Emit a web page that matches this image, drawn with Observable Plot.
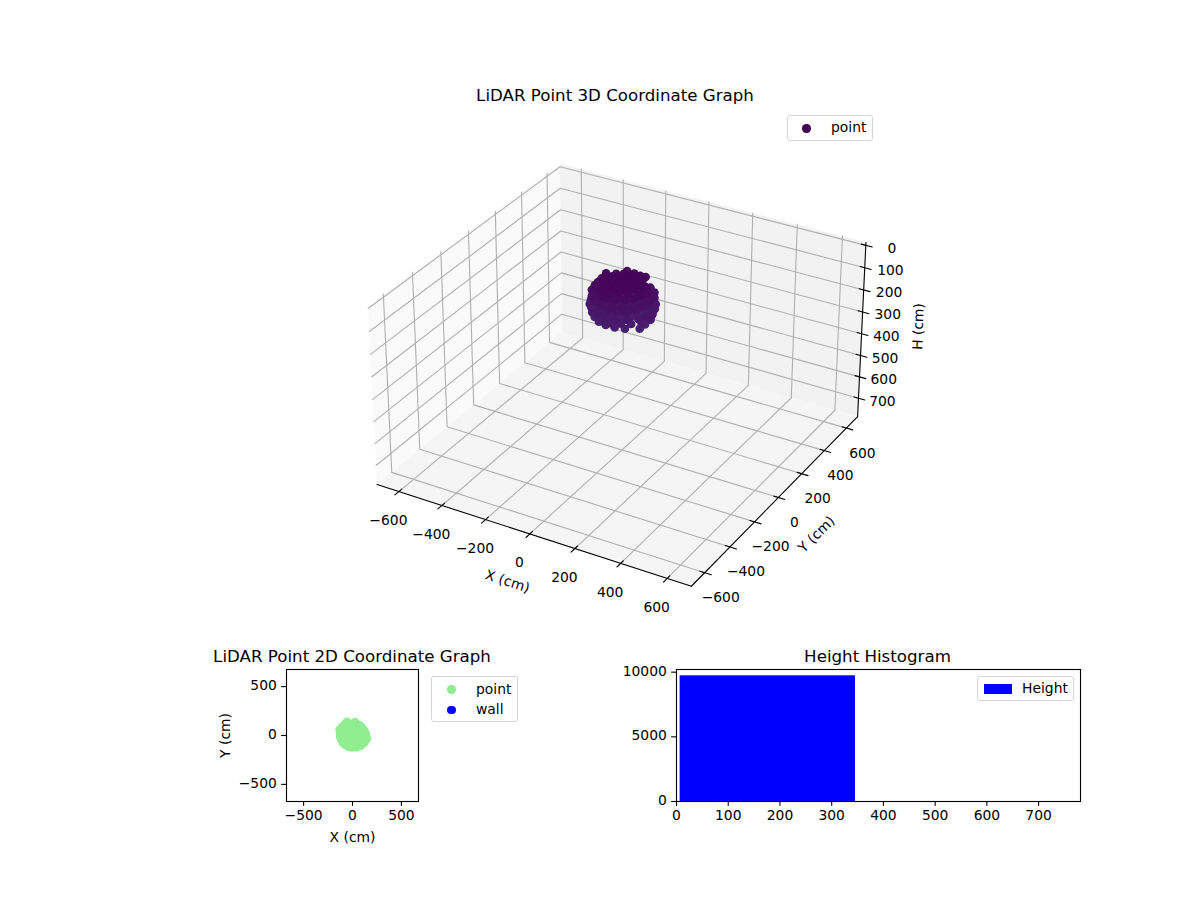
<!DOCTYPE html>
<html>
<head>
<meta charset="utf-8">
<script src="https://cdn.jsdelivr.net/npm/d3@7"></script>
<script src="https://cdn.jsdelivr.net/npm/@observablehq/plot@0.6"></script>
<style>
html,body{margin:0;padding:0;background:#fff;}
#page{position:relative;width:1200px;height:900px;overflow:hidden;font-family:"DejaVu Sans",sans-serif;color:#000;font-size:13.89px;}
#page svg{position:absolute;font-family:"DejaVu Sans",sans-serif;background:transparent;max-width:none;}
.title{position:absolute;font-size:16.67px;white-space:nowrap;transform:translateX(-50%);line-height:20px;}
.legend{position:absolute;box-sizing:border-box;background:rgba(255,255,255,.8);border:1.1px solid #d5d5d5;border-radius:3px;}
.legend span{position:absolute;white-space:nowrap;line-height:16px;}
.legend i{position:absolute;display:block;border-radius:50%;}
.legend b{position:absolute;display:block;}
</style>
</head>
<body>
<div id="page"></div>
<script>
// LiDAR points (cm); H grows downward on the axis
const pointX = [
  -78,-48,-18,12,42,72,-95,-65,-35,-5,25,55,85,-100,-72,-42,-12,18,48,78,105,-95,-68,-38,-8,22,52,82,-82,-52,-22,8,38,68,-45,-15,15,45,
  -94,-32,2,30,-62,-28,0,31,58,-88,-60,-30,-2,28,62,90,-92,-58,-31,1,32,60,88,-90,-62,-28,-1,30,58,92,-60,-30,3,28,60,-31,-2,32,
  -100,-105,-85,-50,-12,28,65,113,120,125,105,75,35,-10,-55,-85,
  -118,-125,-112,-90,-60,-25,15,55,90,118,130,128,115,85,50,10,-30,-70,-100,
  -134,-125,-127,-117,-103,-78,-45,-7,40,85,118,135,150,138,125,110,95,65,27,-15,-85,-110,
  -95,-70,-40,-5,35,70,95,110,-110,
  -125,-110,-80,-58,-10,27,70,105,120,125,115,95,60,20,-20,-60,-92,-115,-125,
  -100,-85,-60,-30,0,30,60,85,100,-105,105,
  -94,-32,2,30,-62,-28,0,31,58,-88,-60,-30,-2,28,62,90,-92,-58,-31,1,32,60,88,-90,-62,-28,-1,30,58,92,-60,-30,3,28,60,-31,-2,32
];
const pointY = [
  72,78,75,80,76,70,48,45,46,44,47,45,42,16,14,15,18,13,16,15,12,-14,-16,-13,-15,-17,-14,-15,-44,-46,-43,-45,-47,-44,-74,-76,-73,-75,
  39,88,92,90,62,60,58,62,60,32,30,28,31,30,33,28,2,0,-2,1,3,-1,2,-31,-29,-30,-32,-28,-31,-30,-60,-58,-62,-61,-59,-88,-90,-87,
  10,-30,-65,-92,-105,-105,-90,-59,-30,5,45,70,90,95,80,50,
  30,-5,-45,-75,-98,-113,-115,-105,-85,-55,-20,15,50,80,100,110,105,90,65,
  58,20,-15,-40,-72,-95,-115,-124,-122,-105,-78,-48,-30,15,45,60,88,112,125,120,110,85,
  -50,-75,-95,-105,-100,-78,-50,-15,-15,
  40,75,100,141,115,138,100,70,35,-5,-45,-75,-98,-112,-112,-98,-72,-35,5,
  -25,-55,-78,-95,-100,-98,-80,-55,-25,10,10,
  39,88,92,90,62,60,58,62,60,32,30,28,31,30,33,28,2,0,-2,1,3,-1,2,-31,-29,-30,-32,-28,-31,-30,-60,-58,-62,-61,-59,-88,-90,-87
];
const pointH = [
  106,108,110,105,107,109,108,104,111,107,105,110,108,106,109,107,111,105,108,110,106,107,109,111,105,108,106,110,107,109,105,111,108,106,110,107,109,108,
  148,150,146,152,149,147,151,148,150,146,149,152,147,150,148,151,146,149,152,148,150,147,149,151,146,148,152,150,147,149,151,148,146,150,149,152,147,148,
  166,170,172,170,168,168,170,172,165,160,162,158,156,160,162,160,
  140,142,146,148,144,146,148,144,145,146,140,138,140,142,138,140,142,140,140,
  112,114,116,118,116,118,120,116,118,116,118,116,116,112,110,112,110,108,112,114,110,108,
  94,96,98,96,94,98,96,94,96,
  76,78,74,58,76,60,78,76,74,76,78,80,76,78,80,78,76,74,76,
  50,52,50,54,52,48,50,52,50,54,50,
  30,34,30,32,34,26,28,24,30,36,30,26,22,24,28,36,34,24,22,20,22,26,32,36,28,24,22,24,28,34,34,28,26,28,32,36,32,36
];
const wallX = [], wallY = [];

// Height histogram
const binStart = [7], binEnd = [346], binCount = [9720];

// Axis ticks
const xTicks = [-600,-400,-200,0,200,400,600];
const yTicks = [-600,-400,-200,0,200,400,600];
const hTicks = [0,100,200,300,400,500,600,700];
const flatTicks = [-500,0,500];
const histXTicks = [0,100,200,300,400,500,600,700];
const histYTicks = [0,5000,10000];

// Limits of the 3D box
const xLim = [-703,703], yLim = [-703,703], hLim = [-14,788];
const view = {elev:30, azim:-60, dist:10, scale:2864, ox:621.5, oy:362.6};

const page = document.getElementById("page");
const FS = 13.89, LW = 1.11, GRID = "#b0b0b0";

// Same projection as a 3D axes viewed from elev/azim with equal data aspect
const aspect = [xLim[1]-xLim[0], yLim[1]-yLim[0], hLim[1]-hLim[0]];
const nrm = Math.hypot(...aspect);
const box = aspect.map(a => a*1.8294640721620434*25/24/nrm);
const el = view.elev*Math.PI/180, az = view.azim*Math.PI/180;
const n = [Math.cos(el)*Math.cos(az), Math.cos(el)*Math.sin(az), Math.sin(el)];
const u0 = [-n[1], n[0], 0], ul = Math.hypot(...u0), u = u0.map(v=>v/ul);
const v = [n[1]*u[2]-n[2]*u[1], n[2]*u[0]-n[0]*u[2], n[0]*u[1]-n[1]*u[0]];
function pr(x,y,h){
  const d = [((x-xLim[0])/aspect[0]-.5)*box[0], ((y-yLim[0])/aspect[1]-.5)*box[1], ((hLim[1]-h)/aspect[2]-.5)*box[2]];
  const dot = a => a[0]*d[0]+a[1]*d[1]+a[2]*d[2];
  const depth = view.dist-dot(n);
  return {px:view.ox+view.scale*dot(u)/depth, py:view.oy-view.scale*dot(v)/depth, depth};
}
const [x0,x1]=xLim,[y0,y1]=yLim,[hTop,hBot]=hLim;
const path = (id,pts)=>pts.map(p=>({id,...pr(...p)}));

const panes = [
  {c:"#fafafa",pts:[[x0,y0,hBot],[x0,y1,hBot],[x0,y1,hTop],[x0,y0,hTop]]},
  {c:"#f2f2f2",pts:[[x0,y1,hBot],[x1,y1,hBot],[x1,y1,hTop],[x0,y1,hTop]]},
  {c:"#f5f5f5",pts:[[x0,y0,hBot],[x1,y0,hBot],[x1,y1,hBot],[x0,y1,hBot]]}
];
const grid = [
  ...xTicks.flatMap(t=>path("x"+t,[[t,y0,hBot],[t,y1,hBot],[t,y1,hTop]])),
  ...yTicks.flatMap(t=>path("y"+t,[[x1,t,hBot],[x0,t,hBot],[x0,t,hTop]])),
  ...hTicks.flatMap(t=>path("h"+t,[[x1,y1,t],[x0,y1,t],[x0,y0,t]]))
];
const axisLines = [
  ...path("ax",[[x0,y0,hBot],[x1,y0,hBot]]),
  ...path("ay",[[x1,y0,hBot],[x1,y1,hBot]]),
  ...path("az",[[x1,y1,hBot],[x1,y1,hTop]])
];
const tin=20,tout=28;
const tickLines = [
  ...xTicks.flatMap(t=>path("tx"+t,[[t,y0+tin,hBot],[t,y0-tout,hBot]])),
  ...yTicks.flatMap(t=>path("ty"+t,[[x1-tin,t,hBot],[x1+tout,t,hBot]])),
  ...hTicks.flatMap(t=>path("th"+t,[[x1-tin,y1,t],[x1+tout,y1,t]]))
];
const fmt = t => String(t).replace("-","\u2212");
const xLabels = xTicks.map(t=>({t:fmt(t),...pr(t,y0,hBot)}));
const yLabels = yTicks.map(t=>({t:fmt(t),...pr(x1,t,hBot)}));
const hLabels = hTicks.map(t=>{const p=pr(x1,y1,t);return {t:fmt(t),...p,px:p.px-t*0.003};});
const cloud = pointX.map((x,i)=>({h:pointH[i],...pr(x,pointY[i],pointH[i])})).sort((a,b)=>b.depth-a.depth);
const axisName = (t,p)=>({t,...p});

const textOpts = {x:"px",y:"py",text:"t",fontSize:FS,fill:"#000",textAnchor:"middle",lineAnchor:"middle"};

const chart3d = Plot.plot({
  width:1200,height:640,margin:0,
  x:{type:"linear",domain:[0,1200],range:[0,1200],axis:null},
  y:{type:"linear",domain:[0,640],range:[0,640],axis:null},
  color:{type:"linear",scheme:"viridis",domain:[0,2000]},
  marks:[
    ...panes.map(p=>Plot.line(p.pts.concat([p.pts[0]]).map(q=>pr(...q)),{x:"px",y:"py",fill:p.c,stroke:"none"})),
    Plot.line(grid,{x:"px",y:"py",z:"id",stroke:GRID,strokeWidth:LW}),
    Plot.line(axisLines,{x:"px",y:"py",z:"id",stroke:"#000",strokeWidth:LW}),
    Plot.line(tickLines,{x:"px",y:"py",z:"id",stroke:"#000",strokeWidth:LW}),
    Plot.text(xLabels,{...textOpts,dx:-10.5,dy:29}),
    Plot.text(yLabels,{...textOpts,dx:16,dy:25}),
    Plot.text(hLabels,{...textOpts,dx:26,dy:3}),
    Plot.text([axisName("X (cm)",{px:507,py:581})],{...textOpts,rotate:18}),
    Plot.text([axisName("Y (cm)",{px:816,py:534})],{...textOpts,rotate:-45}),
    Plot.text([axisName("H (cm)",{px:918,py:326})],{...textOpts,rotate:-88}),
    Plot.dot(cloud,{x:"px",y:"py",r:4.3,fill:"h",stroke:"none"})
  ]
});
chart3d.style.left="0px";chart3d.style.top="0px";
page.appendChild(chart3d);

const tickStyle = {tickSize:4.86,stroke:"#000",strokeWidth:LW,text:null,label:null};
const textStyle = {tickSize:0,tickPadding:9.7,fontSize:FS,color:"#000",dy:-1,labelArrow:"none",labelAnchor:"center"};

const flat = Plot.plot({
  width:230,height:210,marginLeft:86,marginRight:12,marginTop:29,marginBottom:49,
  x:{domain:[-675,675]},y:{domain:[-675,675]},
  marks:[
    Plot.dot(pointX.map((x,i)=>({x,y:pointY[i]})),{x:"x",y:"y",r:4.17,fill:"#90ee90"}),
    Plot.dot(wallX.map((x,i)=>({x,y:wallY[i]})),{x:"x",y:"y",r:4.17,fill:"#0000ff"}),
    Plot.axisX({...tickStyle,ticks:flatTicks}),
    Plot.axisY({...tickStyle,ticks:flatTicks}),
    Plot.axisX({...textStyle,ticks:flatTicks,label:"X (cm)",labelOffset:40}),
    Plot.axisY({...textStyle,ticks:flatTicks,label:"Y (cm)",labelOffset:66}),
    Plot.frame({stroke:"#000",strokeWidth:LW})
  ]
});
flat.style.left="200px";flat.style.top="640px";
page.appendChild(flat);

const hist = Plot.plot({
  width:470,height:210,marginLeft:56,marginRight:10,marginTop:29,marginBottom:49,
  x:{domain:[0,781]},y:{domain:[0,10206]},
  marks:[
    Plot.rectY(binStart.map((s,i)=>({s,e:binEnd[i],c:binCount[i]})),{x1:"s",x2:"e",y:"c",fill:"#0000ff",inset:0}),
    Plot.axisX({...tickStyle,ticks:histXTicks}),
    Plot.axisY({...tickStyle,ticks:histYTicks}),
    Plot.axisX({...textStyle,ticks:histXTicks,label:null}),
    Plot.axisY({...textStyle,ticks:histYTicks,label:null,tickFormat:d=>String(d)}),
    Plot.frame({stroke:"#000",strokeWidth:LW})
  ]
});
hist.style.left="620px";hist.style.top="640px";
page.appendChild(hist);

function addTitle(text,cx,cy){
  const d=document.createElement("div");d.className="title";d.textContent=text;
  d.style.left=cx+"px";d.style.top=(cy-10)+"px";page.appendChild(d);
}
addTitle("LiDAR Point 3D Coordinate Graph",615,96);
addTitle("LiDAR Point 2D Coordinate Graph",352,656.5);
addTitle("Height Histogram",877.5,656.5);

function addLegend(x,y,w,h,items){
  const d=document.createElement("div");d.className="legend";
  Object.assign(d.style,{left:x+"px",top:y+"px",width:w+"px",height:h+"px"});
  for(const it of items){
    if(it.kind==="dot"){
      const m=document.createElement("i");
      Object.assign(m.style,{left:(it.mx-4.2)+"px",top:(it.my-4.2)+"px",width:"8.4px",height:"8.4px",background:it.color});
      d.appendChild(m);
    } else {
      const m=document.createElement("b");
      Object.assign(m.style,{left:(it.mx-14)+"px",top:(it.my-5)+"px",width:"28px",height:"10px",background:it.color});
      d.appendChild(m);
    }
    const s=document.createElement("span");s.textContent=it.label;
    s.style.left=it.tx+"px";s.style.top=it.ty+"px";
    d.appendChild(s);
  }
  page.appendChild(d);
}
addLegend(787,115,86,26,[{kind:"dot",color:"#440154",label:"point",mx:18.5,my:12.5,tx:43,ty:3}]);
addLegend(431,676,87,46,[
  {kind:"dot",color:"#90ee90",label:"point",mx:19.5,my:12.5,tx:44,ty:3.5},
  {kind:"dot",color:"#0000ff",label:"wall",mx:19.5,my:33,tx:44,ty:23.5}
]);
addLegend(977,676,97,25,[{kind:"rect",color:"#0000ff",label:"Height",mx:20,my:12,tx:44,ty:3}]);
</script>
</body>
</html>
